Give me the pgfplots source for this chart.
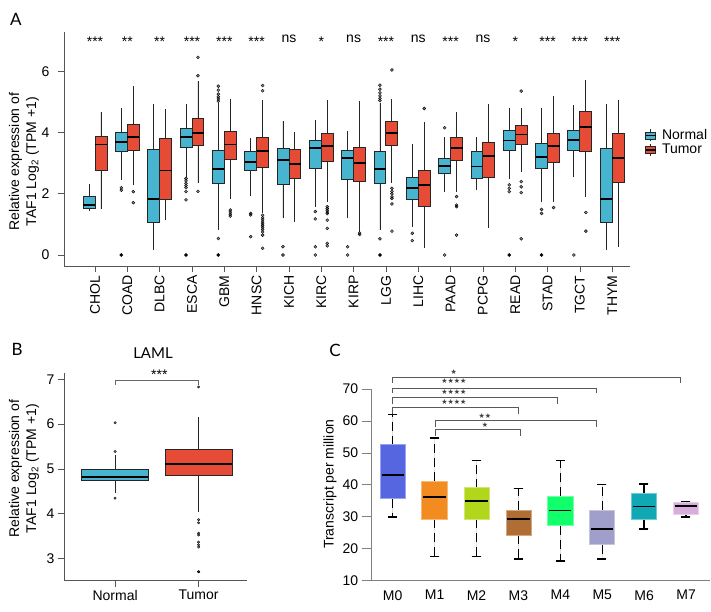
\documentclass[border=0pt]{standalone}
\usepackage{fontspec}
\setmainfont{Liberation Sans}
\newfontfamily\labfont{Lato}
\newfontfamily\symfont{DejaVu Sans}
\usepackage{pgfplots}
\pgfplotsset{compat=1.18}
\usepgfplotslibrary{statistics}
\definecolor{cN}{HTML}{48B5D0}
\definecolor{cT}{HTML}{E64B35}
\definecolor{m0}{HTML}{5566E0}
\definecolor{m1}{HTML}{F28B20}
\definecolor{m2}{HTML}{B2D61A}
\definecolor{m3}{HTML}{B06E35}
\definecolor{m4}{HTML}{12FF6C}
\definecolor{m5}{HTML}{A09FCB}
\definecolor{m6}{HTML}{10A8B4}
\definecolor{m7}{HTML}{D8AEDC}
\definecolor{axgray}{HTML}{555555}
\newcommand{\fs}{\fontsize{14}{17}\selectfont}
\newcommand{\bx}[7]{\addplot[boxplot prepared={draw position=#1, lower whisker=#2, lower quartile=#3, median=#4, upper quartile=#5, upper whisker=#6}, fill=#7, draw=black!85] coordinates {};}
\newcommand{\bxC}[8]{\addplot[boxplot prepared={draw position=#1, lower whisker=#2, lower quartile=#3, median=#4, upper quartile=#5, upper whisker=#6, box extend=#8}, fill=#7, draw=#7!60!white] coordinates {};}
\pgfplotsset{
  myax/.style={scale only axis, anchor=south west, clip=false,
    axis x line*=bottom, axis y line*=left,
    axis line style={axgray, line width=0.8pt, -},
    tick align=outside, major tick length=6pt,
    tick style={axgray, line width=0.8pt},
    tick label style={font=\fs, black},
    label style={font=\fs},
    /pgf/number format/assume math mode=true,
    minor tick num=0,
    boxplot/draw direction=y,
  },
}
\begin{document}
\begin{tikzpicture}
\useasboundingbox (0,0) rectangle (711pt,611pt);
% ---------------- Panel A ----------------
\begin{axis}[myax, at={(64pt,345pt)}, width=566pt, height=234pt,
  xmin=-0.959, xmax=16.55, ymin=-0.36, ymax=7.29,
  xtick={0,...,16},
  xticklabels={CHOL,COAD,DLBC,ESCA,GBM,HNSC,KICH,KIRC,KIRP,LGG,LIHC,PAAD,PCPG,READ,STAD,TGCT,THYM},
  xticklabel style={rotate=90, anchor=east},
  ytick={0,2,4,6},
  yticklabel style={xshift=-5pt},
  ylabel={Relative expression of\\TAF1 Log\textsubscript{2} (TPM +1)},
  ylabel style={at={(axis description cs:-0.0707,0.446)}, anchor=center, align=center},
  boxplot/box extend=0.37, boxplot/whisker extend=0,
  boxplot/every median/.style={line width=1.8pt, black},
  boxplot/every whisker/.style={line width=0.9pt, black!85},
  boxplot/every box/.style={line width=0.9pt},
  legend style={at={(axis description cs:1.0265,0.59)}, anchor=north west, draw=none, fill=none, font=\fs, inner sep=0pt, nodes={inner sep=1.5pt}, column sep=4pt, row sep=0pt},
  legend cell align=left,
]
\addlegendimage{legend image code/.code={
  \draw[black!85, line width=0.8pt] (5pt,-6pt) -- (5pt,6pt);
  \draw[black!85, line width=0.8pt, fill=cN] (0pt,-3.5pt) rectangle (10pt,3.5pt);
  \draw[black, line width=1.3pt] (0pt,0pt) -- (10pt,0pt);}}
\addlegendentry{Normal}
\addlegendimage{legend image code/.code={
  \draw[black!85, line width=0.8pt] (5pt,-6pt) -- (5pt,6pt);
  \draw[black!85, line width=0.8pt, fill=cT] (0pt,-3.5pt) rectangle (10pt,3.5pt);
  \draw[black, line width=1.3pt] (0pt,0pt) -- (10pt,0pt);}}
\addlegendentry{Tumor}
\bx{-0.185}{1.44}{1.53}{1.63}{1.91}{2.32}{cN}
\bx{0.185}{1.49}{2.78}{3.61}{3.89}{4.68}{cT}
\bx{0.815}{2.45}{3.38}{3.70}{4.02}{4.79}{cN}
\bx{1.185}{2.29}{3.43}{3.85}{4.27}{5.52}{cT}
\bx{1.815}{0.16}{1.06}{1.83}{3.45}{4.92}{cN}
\bx{2.185}{1.14}{1.83}{2.76}{3.81}{4.77}{cT}
\bx{2.815}{2.56}{3.50}{3.85}{4.14}{4.92}{cN}
\bx{3.185}{2.34}{3.59}{3.98}{4.46}{5.68}{cT}
\bx{3.815}{0.82}{2.34}{2.82}{3.41}{4.98}{cN}
\bx{4.185}{1.83}{3.13}{3.61}{4.03}{5.11}{cT}
\bx{4.815}{1.93}{2.75}{3.05}{3.38}{3.81}{cN}
\bx{5.185}{1.36}{2.85}{3.41}{3.85}{5.07}{cT}
\bx{5.815}{1.20}{2.31}{3.10}{3.49}{4.38}{cN}
\bx{6.185}{1.09}{2.51}{2.97}{3.46}{4.03}{cT}
\bx{6.815}{1.58}{2.83}{3.49}{3.74}{4.41}{cN}
\bx{7.185}{1.74}{3.05}{3.56}{3.98}{5.07}{cT}
\bx{7.815}{1.20}{2.47}{3.16}{3.43}{4.06}{cN}
\bx{8.185}{0.76}{2.42}{3.00}{3.51}{5.03}{cT}
\bx{8.815}{0.82}{2.34}{2.82}{3.40}{4.97}{cN}
\bx{9.185}{2.36}{3.57}{4.00}{4.37}{5.09}{cT}
\bx{9.815}{0.93}{1.83}{2.20}{2.54}{3.63}{cN}
\bx{10.185}{0.22}{1.58}{2.29}{2.78}{4.34}{cT}
\bx{10.815}{2.06}{2.65}{2.92}{3.14}{3.85}{cN}
\bx{11.185}{2.07}{3.08}{3.51}{3.85}{4.68}{cT}
\bx{11.815}{2.12}{2.51}{2.89}{3.37}{3.85}{cN}
\bx{12.185}{0.87}{2.53}{3.24}{3.68}{4.93}{cT}
\bx{12.815}{2.48}{3.42}{3.74}{4.07}{4.79}{cN}
\bx{13.185}{2.72}{3.62}{3.94}{4.23}{4.80}{cT}
\bx{13.815}{1.72}{2.83}{3.20}{3.64}{4.79}{cN}
\bx{14.185}{1.72}{3.03}{3.57}{3.98}{5.21}{cT}
\bx{14.815}{2.54}{3.43}{3.75}{4.06}{4.90}{cN}
\bx{15.185}{1.91}{3.39}{4.19}{4.69}{5.72}{cT}
\bx{15.815}{0.16}{1.06}{1.84}{3.49}{4.92}{cN}
\bx{16.185}{0.27}{2.37}{3.16}{3.98}{5.07}{cT}
\addplot[only marks, mark=*, mark size=1.5pt, mark options={draw=none, fill=black, fill opacity=0.45}] coordinates {
(0.815,2.20) (0.815,2.12) (1.185,2.07) (1.185,1.71)
(2.815,2.50) (2.815,2.42) (2.815,2.34) (2.815,2.27) (2.815,2.20) (2.815,2.07) (2.815,1.80)
(3.185,2.08) (3.185,5.86) (3.185,6.46)
(3.815,5.52) (3.815,5.39) (3.815,5.26) (3.815,5.17) (3.815,5.10) (3.815,5.03) (3.815,0.54)
(4.185,1.47) (4.185,1.40) (4.185,1.33) (4.185,1.27)
(4.815,1.36) (4.815,1.31) (4.815,0.60)
(5.185,5.54) (5.185,5.37) (5.185,1.30) (5.185,1.22) (5.185,1.15) (5.185,1.08) (5.185,1.02) (5.185,0.96) (5.185,0.90) (5.185,0.83) (5.185,0.75) (5.185,0.65) (5.185,0.22)
(5.815,0.27) (5.815,0)
(6.815,1.42) (6.815,1.18) (6.815,0.27) (6.815,0)
(7.185,1.58) (7.185,1.52) (7.185,1.46) (7.185,1.40) (7.185,1.35) (7.185,1.14) (7.185,0.87) (7.185,0.38) (7.185,0.30)
(7.815,0.27) (7.815,0) (8.185,0.72) (8.185,0.67)
(8.815,5.55) (8.815,5.42) (8.815,5.30) (8.815,5.20) (8.815,5.12) (8.815,5.05) (8.815,0.53)
(9.185,6.05) (9.185,2.18) (9.185,2.08) (9.185,2.00) (9.185,1.90) (9.185,1.85) (9.185,1.67) (9.185,0.78)
(9.815,0.71) (9.815,0.47) (10.185,4.79)
(10.815,4.16) (10.815,0) (11.185,1.91) (11.185,1.63) (11.185,1.58) (11.185,0.65)
(12.815,2.29) (12.815,2.18) (12.815,2.07)
(13.185,5.36) (13.185,2.40) (13.185,2.23) (13.185,2.04) (13.185,0.53)
(13.815,1.49) (13.815,1.36) (14.185,1.55)
(14.815,0) (15.185,1.39) (15.185,0.78)
};
\addplot[only marks, mark=*, mark size=1.6pt, mark options={draw=none, fill=black}] coordinates {
(0.815,0) (2.815,0) (3.815,0) (8.815,0) (12.815,0) (13.815,0)
};
\node[font=\fs, anchor=base] at (axis cs:0,6.82) {***};
\node[font=\fs, anchor=base] at (axis cs:1,6.82) {**};
\node[font=\fs, anchor=base] at (axis cs:2,6.82) {**};
\node[font=\fs, anchor=base] at (axis cs:3,6.82) {***};
\node[font=\fs, anchor=base] at (axis cs:4,6.82) {***};
\node[font=\fs, anchor=base] at (axis cs:5,6.82) {***};
\node[font=\fs, anchor=base] at (axis cs:6,6.95) {ns};
\node[font=\fs, anchor=base] at (axis cs:7,6.82) {*};
\node[font=\fs, anchor=base] at (axis cs:8,6.95) {ns};
\node[font=\fs, anchor=base] at (axis cs:9,6.82) {***};
\node[font=\fs, anchor=base] at (axis cs:10,6.95) {ns};
\node[font=\fs, anchor=base] at (axis cs:11,6.82) {***};
\node[font=\fs, anchor=base] at (axis cs:12,6.95) {ns};
\node[font=\fs, anchor=base] at (axis cs:13,6.82) {*};
\node[font=\fs, anchor=base] at (axis cs:14,6.82) {***};
\node[font=\fs, anchor=base] at (axis cs:15,6.82) {***};
\node[font=\fs, anchor=base] at (axis cs:16,6.82) {***};
\end{axis}
% ---------------- Panel B ----------------
\begin{axis}[myax, at={(64pt,30.3pt)}, width=183pt, height=207.7pt,
  xmin=0.388, xmax=2.58, ymin=2.51, ymax=7.14,
  xtick={1,2}, xticklabels={Normal,Tumor}, ytick={3,4,5,6,7},
  ylabel={Relative expression of\\TAF1 Log\textsubscript{2} (TPM +1)},
  ylabel style={at={(axis description cs:-0.2186,0.54)}, anchor=center, align=center},
  boxplot/box extend=0.8, boxplot/whisker extend=0,
  boxplot/every median/.style={line width=1.8pt, black},
  boxplot/every whisker/.style={line width=0.9pt, black!85},
  boxplot/every box/.style={line width=0.9pt},
]
\bx{1}{4.46}{4.74}{4.83}{4.98}{5.32}{cN}
\bx{2}{4.05}{4.86}{5.11}{5.43}{6.16}{cT}
\addplot[only marks, mark=*, mark size=1.2pt, mark options={draw=none, fill=black, fill opacity=0.45}] coordinates {
(1,5.39) (1,6.03) (1,4.35) (2,6.83) (2,3.87) (2,3.80) (2,3.57) (2,3.53) (2,3.37) (2,3.31) (2,3.26) (2,2.71) (2,2.71)
};
\draw[black!60, line width=0.7pt] (axis cs:1,6.87) |- (axis cs:2,6.98) -- (axis cs:2,6.87);
\node[font=\fs, anchor=base] at (axis cs:1.53,6.99) {***};
\end{axis}
% ---------------- Panel C ----------------
\begin{axis}[myax, at={(371.7pt,30.3pt)}, width=338.3pt, height=191.7pt,
  xmin=-0.5, xmax=7.57, ymin=10, ymax=70,
  xtick={0,...,7}, xticklabels={M0,M1,M2,M3,M4,M5,M6,M7},
  x tick style={draw=none}, xticklabel style={yshift=4pt},
  ytick={10,20,...,70}, major tick length=10pt,
  axis line style={gray, line width=0.8pt}, tick style={gray, line width=0.8pt},
  ylabel={Transcript per million},
  ylabel style={at={(axis description cs:-0.1233,0.504)}, anchor=center},
  boxplot/whisker extend=0.23,
  boxplot/every median/.style={line width=1.8pt, black, shorten <=1.5pt, shorten >=1.5pt},
  boxplot/every whisker/.style={line width=1.5pt, black, dash pattern=on 9pt off 5pt},
  boxplot/every box/.style={line width=0.7pt},
]
\bxC{0}{30.0}{35.7}{43.0}{52.6}{62.0}{m0}{0.6}
\bxC{1}{17.5}{29.2}{36.25}{41.25}{54.7}{m1}{0.62}
\bxC{2}{17.5}{29.2}{35.0}{39.1}{47.6}{m2}{0.6}
\bxC{3}{16.8}{24.3}{29.2}{32.1}{38.9}{m3}{0.6}
\bxC{4}{16.2}{27.2}{32.0}{36.5}{47.6}{m4}{0.6}
\bxC{5}{16.8}{21.25}{26.2}{32.1}{40.1}{m5}{0.6}
\bxC{6}{26.25}{29.1}{33.25}{37.3}{40.3}{m6}{0.6}
\bxC{7}{30.0}{30.75}{33.3}{34.4}{34.7}{m7}{0.6}
\draw[black!65, line width=0.7pt] (axis cs:0,72.0) |- (axis cs:6.87,73.75) -- (axis cs:6.87,72.0);
\draw[black!65, line width=0.7pt] (axis cs:0,68.6) |- (axis cs:4.87,70.3) -- (axis cs:4.87,68.6);
\draw[black!65, line width=0.7pt] (axis cs:0,65.2) |- (axis cs:3.92,67.3) -- (axis cs:3.92,65.2);
\draw[black!65, line width=0.7pt] (axis cs:0,62.3) |- (axis cs:3.0,64.4) -- (axis cs:3.0,62.3);
\draw[black!65, line width=0.7pt] (axis cs:1.01,58.1) |- (axis cs:4.87,60.2) -- (axis cs:4.87,58.1);
\draw[black!65, line width=0.7pt] (axis cs:1.01,55.2) |- (axis cs:3.04,57.3) -- (axis cs:3.04,55.2);
\node[font=\symfont\fontsize{7}{8}\selectfont, text=black!75, inner sep=0pt] at (axis cs:1.46,75.3) {★};
\node[font=\symfont\fontsize{7}{8}\selectfont, text=black!75, inner sep=0pt] at (axis cs:1.46,72.5) {★★★★};
\node[font=\symfont\fontsize{7}{8}\selectfont, text=black!75, inner sep=0pt] at (axis cs:1.46,69.0) {★★★★};
\node[font=\symfont\fontsize{7}{8}\selectfont, text=black!75, inner sep=0pt] at (axis cs:1.46,66.0) {★★★★};
\node[font=\symfont\fontsize{7}{8}\selectfont, text=black!75, inner sep=0pt] at (axis cs:2.2,61.5) {★★};
\node[font=\symfont\fontsize{7}{8}\selectfont, text=black!75, inner sep=0pt] at (axis cs:2.2,58.6) {★};
\end{axis}
% panel labels
\node[font=\labfont\fontsize{17}{20}\selectfont] at (16pt,592pt) {A};
\node[font=\labfont\fontsize{17}{20}\selectfont] at (17pt,262pt) {B};
\node[font=\labfont\fontsize{17}{20}\selectfont] at (335pt,261pt) {C};
\node[font=\labfont\fontsize{15}{18}\selectfont] at (153pt,258pt) {LAML};
\end{tikzpicture}
\end{document}
